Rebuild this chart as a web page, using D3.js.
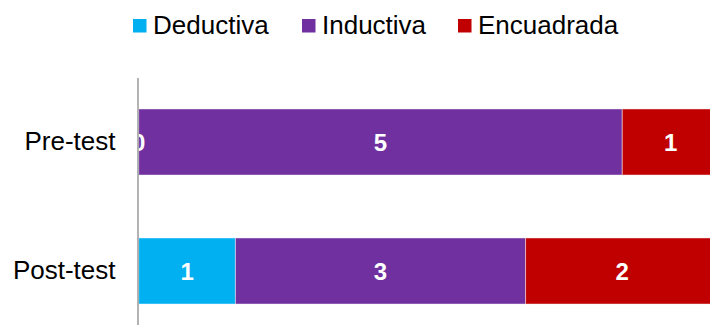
<!DOCTYPE html>
<html>
<head>
<meta charset="utf-8">
<script src="https://cdn.jsdelivr.net/npm/d3@7/dist/d3.min.js"></script>
<style>
  html, body { margin: 0; padding: 0; background: #fff; }
  svg { display: block; font-family: "Liberation Sans", Arial, sans-serif; }
</style>
</head>
<body>
<svg id="chart" width="710" height="325"></svg>
<script>
// Data
const categories = ["Pre-test", "Post-test"];
const seriesNames = ["Deductiva", "Inductiva", "Encuadrada"];
const deductiva = [0, 1];
const inductiva = [5, 3];
const encuadrada = [1, 2];
const seriesColors = ["#00B0F0", "#7030A0", "#C00000"];

const rows = categories.map((c, i) => ({
  cat: c,
  Deductiva: deductiva[i],
  Inductiva: inductiva[i],
  Encuadrada: encuadrada[i]
}));

const svg = d3.select("#chart");

const x = d3.scaleLinear().domain([0, 6]).range([138.7, 719]);
const y = d3.scaleBand()
  .domain(categories)
  .range([77.5, 335.5])
  .paddingInner(0.488)
  .paddingOuter(0.244);
const color = d3.scaleOrdinal().domain(seriesNames).range(seriesColors);

const stacked = d3.stack().keys(seriesNames)(rows);
const segments = stacked.flatMap(layer => layer.map(v => ({ v, key: layer.key })));

// Bars
svg.append("g").selectAll("rect")
  .data(segments)
  .join("rect")
  .attr("x", d => x(d.v[0]))
  .attr("y", d => y(d.v.data.cat))
  .attr("width", d => x(d.v[1]) - x(d.v[0]))
  .attr("height", y.bandwidth())
  .attr("fill", d => color(d.key))
  .attr("stroke", d => d.v[1] > d.v[0] ? "rgba(255,255,255,0.45)" : "none")
  .attr("stroke-width", 1);

// Value labels, drawn above every bar
svg.append("g").selectAll("text")
  .data(segments)
  .join("text")
  .attr("x", d => (x(d.v[0]) + x(d.v[1])) / 2)
  .attr("y", d => y(d.v.data.cat) + y.bandwidth() / 2)
  .attr("dy", "0.36em")
  .attr("text-anchor", "middle")
  .attr("fill", "#fff")
  .attr("font-weight", "bold")
  .attr("font-size", 24)
  .text(d => d.v.data[d.key]);

// Category axis
const axis = svg.append("g")
  .attr("transform", `translate(${137.5},0)`)
  .call(d3.axisLeft(y).tickSize(0).tickPadding(22));
axis.select(".domain").attr("stroke", "#9a9a9a").attr("stroke-width", 1.5);
axis.selectAll("text")
  .attr("font-size", 26)
  .attr("fill", "#000")
  .attr("font-family", "Liberation Sans, Arial, sans-serif");

// Legend
const legendX = [133, 302, 458];
const legend = svg.append("g").selectAll("g")
  .data(seriesNames)
  .join("g")
  .attr("transform", (d, i) => `translate(${legendX[i]},0)`);
legend.append("rect")
  .attr("x", 0).attr("y", 19)
  .attr("width", 13.5).attr("height", 13.5)
  .attr("fill", d => color(d));
legend.append("text")
  .attr("x", 20).attr("y", 33.5)
  .attr("font-size", 26)
  .attr("fill", "#000")
  .text(d => d);
</script>
</body>
</html>
